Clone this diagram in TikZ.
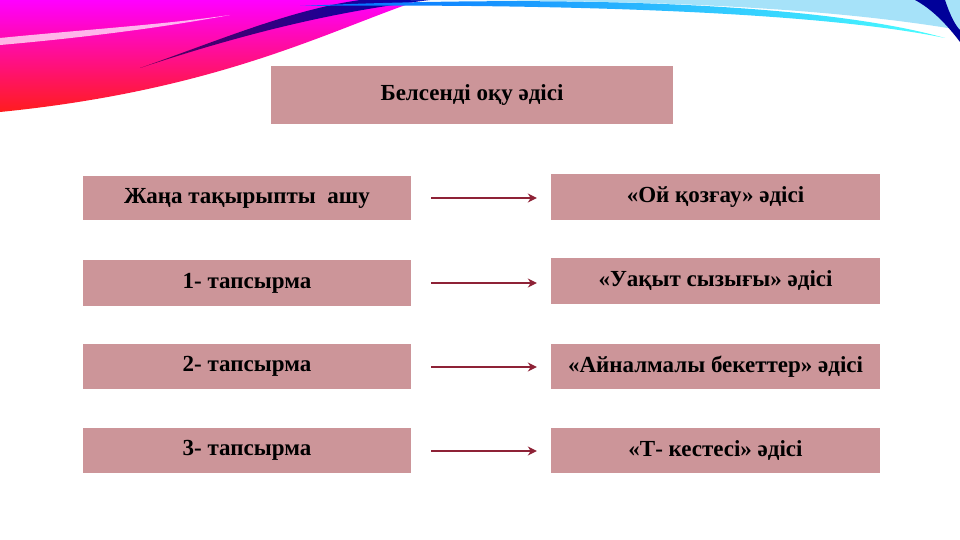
\documentclass[tikz,border=0pt]{standalone}
\usepackage{fontspec}
\setmainfont{Liberation Serif}
\usetikzlibrary{arrows.meta}
\begin{document}
\begin{tikzpicture}[x=1pt,y=-1pt,
  box/.style={fill=boxc,draw=none,inner sep=0,font=\bfseries\fontsize{23}{26}\selectfont},
  arr/.style={draw=arrc,line width=1.1pt,-{Stealth[length=9pt,width=9pt]}}]
\definecolor{boxc}{HTML}{CC9599}
\definecolor{arrc}{HTML}{8E2236}
\useasboundingbox (0,0) rectangle (960,540);
% decorative swooshes
\shade[top color=magenta, bottom color=red!85!pink] (0,0) -- (420,0) .. controls (330,30) and (220,90) .. (0,112) -- cycle;
\fill[white,opacity=0.7] (0,38) .. controls (80,30) and (160,25) .. (230,15) .. controls (160,28) and (80,38) .. (0,45) -- cycle;
\shade[left color=violet!70!black, right color=blue!70!black] (140,68) .. controls (220,40) and (290,10) .. (360,0) -- (430,0) .. controls (330,12) and (240,35) .. (140,68) -- cycle;
\fill[cyan!35!white] (400,0) -- (960,0) -- (960,30) .. controls (800,3) and (600,0) .. (400,0) -- cycle;
\shade[left color=blue!60!cyan, right color=cyan!70] (300,6) .. controls (500,-3) and (800,-3) .. (945,38) .. controls (800,8) and (500,4) .. (300,6) -- cycle;
\fill[blue!60!black] (915,0) -- (945,0) .. controls (950,15) and (955,25) .. (960,30) -- (960,42) .. controls (945,22) and (930,8) .. (915,0) -- cycle;
% nodes
\node[box,minimum width=402,minimum height=58] (t) at (472,95) {Белсенді оқу әдісі};
\node[box,minimum width=328,minimum height=44] (l1) at (247,198) {Жаңа тақырыпты\ \ ашу};
\node[box,minimum width=328,minimum height=46] (l2) at (247,283) {1- тапсырма};
\node[box,minimum width=328,minimum height=45] (l3) at (247,366.5) {2- тапсырма};
\node[box,minimum width=328,minimum height=45] (l4) at (247,450.5) {3- тапсырма};
\node[box,minimum width=329,minimum height=46] (r1) at (715.5,197) {«Ой қозғау» әдісі};
\node[box,minimum width=329,minimum height=46] (r2) at (715.5,281) {«Уақыт сызығы» әдісі};
\node[box,minimum width=329,minimum height=45] (r3) at (715.5,366.5) {«Айналмалы бекеттер» әдісі};
\node[box,minimum width=329,minimum height=45] (r4) at (715.5,450.5) {«Т- кестесі» әдісі};
\coordinate (a1) at (431,198); \coordinate (a2) at (431,283); \coordinate (a3) at (431,367); \coordinate (a4) at (431,451);
\draw[arr] (a1) -- ([xshift=-14pt]r1.west |- a1);
\draw[arr] (a2) -- ([xshift=-14pt]r2.west |- a2);
\draw[arr] (a3) -- ([xshift=-14pt]r3.west |- a3);
\draw[arr] (a4) -- ([xshift=-14pt]r4.west |- a4);
\end{tikzpicture}
\end{document}
